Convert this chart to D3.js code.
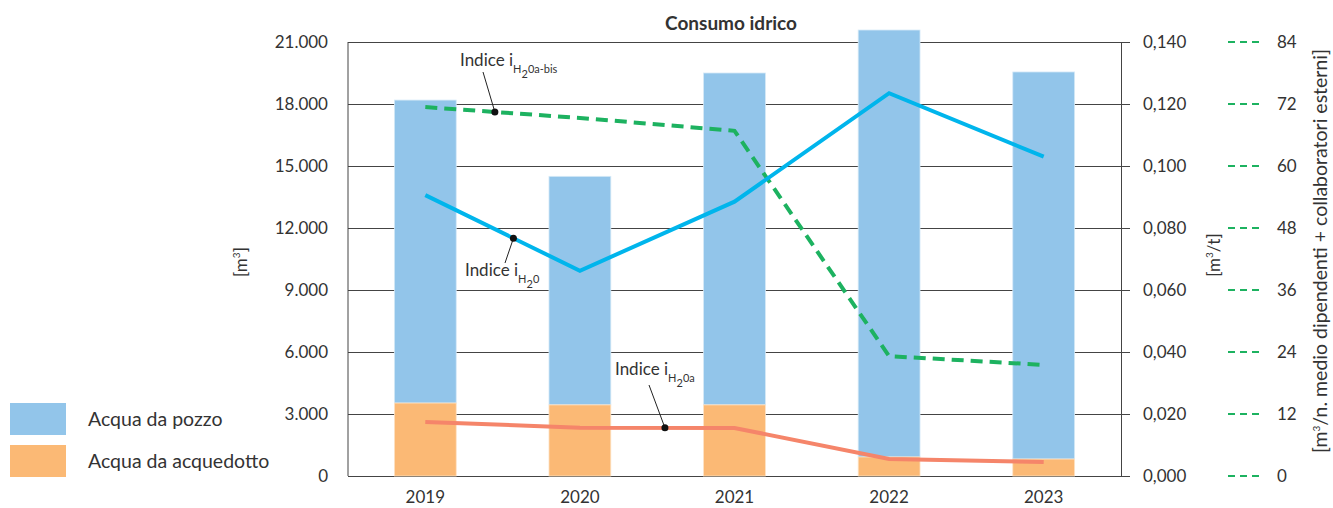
<!DOCTYPE html>
<html><head><meta charset="utf-8">
<script src="https://cdn.jsdelivr.net/npm/d3@7"></script>
<style>body{margin:0;background:#fff;} text{font-family:Lato,"Open Sans",sans-serif;fill:#333;}</style>
</head><body><svg id="c" width="1333" height="508"></svg>
<script>
const years = ["2019","2020","2021","2022","2023"];
const acquedotto = [3530, 3440, 3440, 920, 820];
const pozzo = [14660, 11060, 16060, 20660, 18730];
const iH2O = [0.0906, 0.0662, 0.0885, 0.1235, 0.1030];
const iH2Oa = [0.0174, 0.0156, 0.0155, 0.0055, 0.0045];
const iH2ObisVals = [71.4, 69.3, 66.8, 23.2, 21.5];
const leftTicks = [0,3000,6000,9000,12000,15000,18000,21000];
const rightTicks = [0,0.02,0.04,0.06,0.08,0.10,0.12,0.14];
const farTicks = [0,12,24,36,48,60,72,84];

const svg = d3.select("#c");
const L=348, R=1121, T=42, B=476;
const x = d3.scaleBand().domain(years).range([L,R]).paddingInner(0.6).paddingOuter(0.3);
const y = d3.scaleLinear().domain([0,21000]).range([B,T]);
const y2 = d3.scaleLinear().domain([0,0.14]).range([B,T]);
const y3 = d3.scaleLinear().domain([0,84]).range([B,T]);
const cx = d => x(d)+x.bandwidth()/2;
const fmtL = d3.formatLocale({decimal:",",thousands:".",grouping:[3],currency:["",""]});
const fL = fmtL.format(",.0f"), fR = fmtL.format(".3f");

// gridlines via left axis
const gAx = svg.append("g").attr("transform",`translate(${L},0)`)
  .call(d3.axisLeft(y).tickValues(leftTicks).tickFormat(fL).tickSize(-(R-L+9)).tickPadding(20));
gAx.select(".domain").remove();
gAx.selectAll(".tick line").attr("stroke","#444").attr("stroke-width",1);
gAx.selectAll(".tick text").style("font-size","17px").attr("fill","#333");
svg.append("line").attr("x1",L).attr("x2",L).attr("y1",T).attr("y2",B).attr("stroke","#444");

// bars
const stackData = years.map((yr,i)=>({yr, a:acquedotto[i], p:pozzo[i]}));
svg.append("g").selectAll("rect.p").data(stackData).join("rect")
  .attr("x",d=>x(d.yr)).attr("width",x.bandwidth())
  .attr("y",d=>y(d.a+d.p)).attr("height",d=>y(d.a)-y(d.a+d.p))
  .attr("fill","#92c5ea").attr("stroke","#d5e9f7").attr("stroke-width",0.8);
svg.append("g").selectAll("rect.a").data(stackData).join("rect")
  .attr("x",d=>x(d.yr)).attr("width",x.bandwidth())
  .attr("y",d=>y(d.a)).attr("height",d=>B-y(d.a))
  .attr("fill","#fbb975").attr("stroke","#fde3c6").attr("stroke-width",0.8);

// right axis
const gR = svg.append("g").attr("transform",`translate(${R},0)`)
  .call(d3.axisRight(y2).tickValues(rightTicks).tickFormat(fR).tickSize(0).tickPadding(22));
gR.select(".domain").attr("stroke","#444");
gR.selectAll(".tick text").style("font-size","17px").attr("fill","#333");

// far right axis
const gF = svg.append("g").attr("transform",`translate(1228,0)`);
farTicks.forEach(t=>{
  gF.append("line").attr("x1",0).attr("x2",34).attr("y1",y3(t)).attr("y2",y3(t))
    .attr("stroke","#1db260").attr("stroke-width",2).attr("stroke-dasharray","7,5");
  gF.append("text").attr("x",49).attr("y",y3(t)).attr("dy","0.35em").style("font-size","17px").text(t);
});

// lines
const line = (sc)=>d3.line().x((d,i)=>cx(years[i])).y(d=>sc(d));
svg.append("path").datum(iH2ObisVals).attr("d",line(y3)).attr("fill","none")
  .attr("stroke","#1db260").attr("stroke-width",4).attr("stroke-dasharray","12,7");
svg.append("path").datum(iH2O).attr("d",line(y2)).attr("fill","none")
  .attr("stroke","#00b5ec").attr("stroke-width",4);
svg.append("path").datum(iH2Oa).attr("d",line(y2)).attr("fill","none")
  .attr("stroke","#f5856a").attr("stroke-width",4);

// annotations
function ptOn(vals, sc, i, t){
  return [cx(years[i])+(cx(years[i+1])-cx(years[i]))*t, sc(vals[i]+(vals[i+1]-vals[i])*t)];
}
function annot(pt, lx, ly, tx, ty, sub){
  svg.append("line").attr("x1",lx).attr("y1",ly).attr("x2",pt[0]).attr("y2",pt[1]).attr("stroke","#222").attr("stroke-width",1);
  svg.append("circle").attr("cx",pt[0]).attr("cy",pt[1]).attr("r",3.5).attr("fill","#111");
  const t = svg.append("text").attr("x",tx).attr("y",ty).style("font-size","17px");
  t.append("tspan").text("Indice i");
  t.append("tspan").attr("dy",7).style("font-size","11px").text(sub[0]);
  t.append("tspan").attr("dy",5).style("font-size","11px").text("2");
  t.append("tspan").attr("dy",-5).style("font-size","11px").text(sub[1]);
}
annot(ptOn(iH2ObisVals,y3,0,0.45), 483, 72, 460, 66, ["H","0a-bis"]);
annot(ptOn(iH2O,y2,0,0.57), 505, 263, 465, 276, ["H","0"]);
annot(ptOn(iH2Oa,y2,1,0.55), 649, 385, 615, 375, ["H","0a"]);

// x labels
years.forEach(yr=>svg.append("text").attr("x",cx(yr)).attr("y",503).attr("text-anchor","middle").style("font-size","17px").text(yr));

// axis titles
function supTitle(xp, yp, parts, fs){
  const t = svg.append("text").attr("transform",`translate(${xp},${yp}) rotate(-90)`).attr("text-anchor","middle").style("font-size",fs+"px");
  t.append("tspan").text(parts[0]);
  t.append("tspan").attr("dy",-7).style("font-size","10px").text("3");
  t.append("tspan").attr("dy",7).text(parts[1]);
}
supTitle(247, 262, ["[m","]"], 17);
supTitle(1220, 255, ["[m","/t]"], 17);
supTitle(1327, 251, ["[m","/n. medio dipendenti + collaboratori esterni]"], 19.5);

// title
svg.append("text").attr("x",731).attr("y",30).attr("text-anchor","middle").style("font-size","19px").style("font-weight","bold").attr("fill","#111").text("Consumo idrico");

// legend
const legend = [["Acqua da pozzo","#92c5ea"],["Acqua da acquedotto","#fbb975"]];
legend.forEach((d,i)=>{
  svg.append("rect").attr("x",10).attr("y",403+i*42).attr("width",56).attr("height",32).attr("fill",d[1]);
  svg.append("text").attr("x",88).attr("y",419+i*42).attr("dy","0.35em").style("font-size","19.5px").text(d[0]);
});
</script></body></html>
